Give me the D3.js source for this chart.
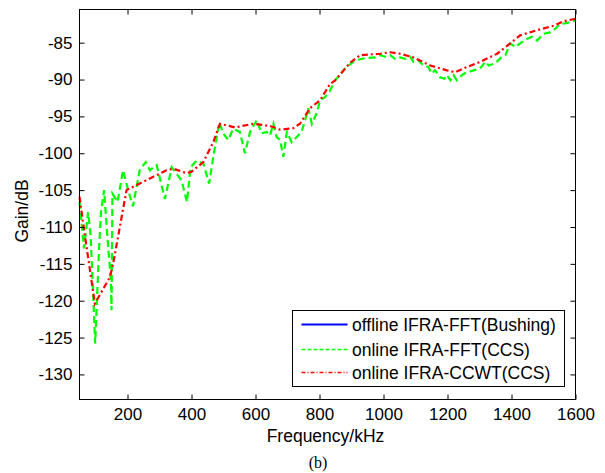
<!DOCTYPE html>
<html>
<head>
<meta charset="utf-8">
<script src="https://cdn.jsdelivr.net/npm/d3@7"></script>
<style>
  html, body { margin: 0; padding: 0; background: #fff; }
  svg { display: block; }
  text { font-family: Arial, "Liberation Sans", sans-serif; fill: #000; }
</style>
</head>
<body>
<svg id="chart" width="605" height="473"></svg>
<script>
// Frequency sweep (kHz) and gain (dB) for each measurement
const fftFreq = [50, 64, 77, 85, 99, 111, 117, 127, 137, 148, 150, 153, 169, 186, 202, 217, 238, 257, 270, 291,
  317, 338, 369, 386, 397, 416, 437, 455, 468, 487, 499, 515, 530, 551, 567, 583, 604, 619, 635, 645,
  656, 666, 677, 687, 698, 713, 729, 744, 755, 765, 776, 791, 802, 817, 833, 849, 880, 911, 943, 974,
  990, 1005, 1021, 1036, 1052, 1068, 1083, 1094, 1109, 1125, 1140, 1151, 1161, 1177, 1190, 1198, 1209, 1219, 1229, 1245,
  1261, 1282, 1302, 1318, 1329, 1349, 1370, 1381, 1396, 1412, 1427, 1448, 1464, 1480, 1500, 1521, 1537, 1553, 1568, 1584, 1600];
const fftGain = [-106.6, -112.9, -108, -111.3, -125.8, -113.1, -108, -105, -111.3, -117.2, -121.3, -105.5, -106.6, -102.3, -105, -107.2, -102.3, -101.2, -102.3, -101.6,
  -106.2, -101.9, -103.7, -106.6, -101.9, -101, -101.4, -104.1, -100.5, -95.8, -97.3, -98.2, -96.7, -97.1, -100, -97.1, -95.5, -97.3, -97.1, -97.6,
  -96, -97.8, -98.2, -100.5, -97.1, -98.5, -97.8, -97.1, -95.5, -93.9, -96, -94.6, -92.8, -92.4, -91.5, -90.1, -88.5, -87.4, -87.1, -87,
  -86.7, -86.9, -86.7, -87.2, -87, -87.2, -86.9, -87.6, -87.4, -88.1, -88.3, -89.2, -88.75, -89.7, -89.9, -89.4, -90.1, -89.4, -90.1, -89.4,
  -89, -88.75, -88.5, -87.6, -88.1, -87.8, -86.9, -86.7, -85.1, -85.6, -85.1, -84.5, -84.2, -84.7, -83.8, -83.6, -83.1, -82.4, -82.4, -82.2, -82];

const ccwtFreq = [50, 66, 98, 145, 155, 197, 322, 343, 385, 400, 437, 468, 489, 536, 593, 645, 677, 718, 739, 770,
  802, 833, 849, 896, 927, 958, 990, 1021, 1052, 1094, 1146, 1198, 1224, 1261, 1302, 1355, 1396, 1427, 1480, 1532, 1563, 1600];
const ccwtGain = [-105.9, -110.9, -120.4, -116.8, -115, -105, -102.3, -102.1, -102.7, -102.5, -101.2, -98.5, -96, -96.5, -96, -96.3, -96.8, -96.6, -96, -93.9,
  -92.8, -90.6, -90.1, -87.7, -86.7, -86.6, -86.5, -86.3, -86.5, -87, -88.1, -88.75, -89, -88.3, -87.6, -86.5, -85.1, -84, -83.3, -82.7, -82.1, -81.75];

const xTicks = [200, 400, 600, 800, 1000, 1200, 1400, 1600];
const yTicks = [-130, -125, -120, -115, -110, -105, -100, -95, -90, -85];
const legendLabels = ["offline IFRA-FFT(Bushing)", "online IFRA-FFT(CCS)", "online IFRA-CCWT(CCS)"];

const svg = d3.select("#chart");
const plotLeft = 79.5, plotRight = 575.5, plotTop = 9.5, plotBottom = 399.5;

const x = d3.scaleLinear().domain([50, 1600]).range([plotLeft, plotRight]);
const y = d3.scaleLinear().domain([-133.4, -80.5]).range([plotBottom, plotTop]);

const tickLen = 5;
const tickFont = "17px";
const labelFont = "17.5px";
const plain = d => String(d);   // plain ASCII hyphen, no thousands separator

// Axes: ticks point inward on all four sides, labels on bottom and left
const xAxisBottom = d3.axisBottom(x).tickValues(xTicks).tickFormat(plain).tickSizeInner(-tickLen).tickSizeOuter(0).tickPadding(8.5);
const xAxisTop = d3.axisTop(x).tickValues(xTicks).tickSizeInner(-tickLen).tickSizeOuter(0).tickFormat("");
const yAxisLeft = d3.axisLeft(y).tickValues(yTicks).tickFormat(plain).tickSizeInner(-tickLen).tickSizeOuter(0).tickPadding(7);
const yAxisRight = d3.axisRight(y).tickValues(yTicks).tickSizeInner(-tickLen).tickSizeOuter(0).tickFormat("");

function styleAxis(g) {
  g.select(".domain").remove();
  g.selectAll(".tick line").attr("stroke", "#000").attr("stroke-width", 1);
  g.selectAll(".tick text").style("font-size", tickFont).attr("fill", "#000")
    .style("font-family", "Arial, 'Liberation Sans', sans-serif");
}

// Data lines
const line = d3.line().x(d => x(d[0])).y(d => y(d[1]));
const plot = svg.append("g");

plot.append("path")
  .datum(d3.zip(fftFreq, fftGain))
  .attr("d", line)
  .attr("fill", "none")
  .attr("stroke", "#00ff00")
  .attr("stroke-width", 2.2)
  .attr("stroke-dasharray", "7,4");

plot.append("path")
  .datum(d3.zip(ccwtFreq, ccwtGain))
  .attr("d", line)
  .attr("fill", "none")
  .attr("stroke", "#ff0000")
  .attr("stroke-width", 2.2)
  .attr("stroke-dasharray", "6,3,2,3");

svg.append("g").attr("transform", `translate(0,${plotBottom})`).call(xAxisBottom).call(styleAxis)
  .selectAll(".tick text").attr("dy", "0.71em");
svg.append("g").attr("transform", `translate(0,${plotTop})`).call(xAxisTop).call(styleAxis);
svg.append("g").attr("transform", `translate(${plotLeft},0)`).call(yAxisLeft).call(styleAxis);
svg.append("g").attr("transform", `translate(${plotRight},0)`).call(yAxisRight).call(styleAxis);

// Axes box
svg.append("rect")
  .attr("x", plotLeft).attr("y", plotTop)
  .attr("width", plotRight - plotLeft).attr("height", plotBottom - plotTop)
  .attr("fill", "none").attr("stroke", "#000").attr("stroke-width", 1);

// Axis titles
svg.append("text")
  .attr("x", (plotLeft + plotRight) / 2 - 2).attr("y", 442)
  .attr("text-anchor", "middle")
  .style("font-size", labelFont)
  .text("Frequency/kHz");

svg.append("text")
  .attr("transform", `translate(28,211) rotate(-90)`)
  .attr("text-anchor", "middle")
  .style("font-size", labelFont)
  .text("Gain/dB");

// Legend
const legendBox = { x: 292.5, y: 310.5, w: 272, h: 76 };
const legend = svg.append("g");
legend.append("rect")
  .attr("x", legendBox.x).attr("y", legendBox.y)
  .attr("width", legendBox.w).attr("height", legendBox.h)
  .attr("fill", "#fff").attr("stroke", "#000").attr("stroke-width", 1);

const legendStyles = [
  { color: "#0000ff", dash: null },
  { color: "#00ff00", dash: "4,2" },
  { color: "#ff0000", dash: "4,2,1,2" }
];
const rowY = [324.5, 349.5, 372.5];
legendLabels.forEach((label, i) => {
  legend.append("line")
    .attr("x1", 301.5).attr("x2", 347.5)
    .attr("y1", rowY[i]).attr("y2", rowY[i])
    .attr("stroke", legendStyles[i].color)
    .attr("stroke-width", i === 0 ? 2 : 1.5)
    .attr("stroke-dasharray", legendStyles[i].dash);
  legend.append("text")
    .attr("x", 352).attr("y", rowY[i])
    .attr("dy", "0.35em")
    .style("font-size", labelFont)
    .text(label);
});

// Panel caption
svg.append("text")
  .attr("x", 318).attr("y", 468)
  .attr("text-anchor", "middle")
  .style("font-family", "'Liberation Serif', 'Times New Roman', serif")
  .style("font-size", "16px")
  .attr("fill", "#444")
  .text("(b)");
</script>
</body>
</html>
